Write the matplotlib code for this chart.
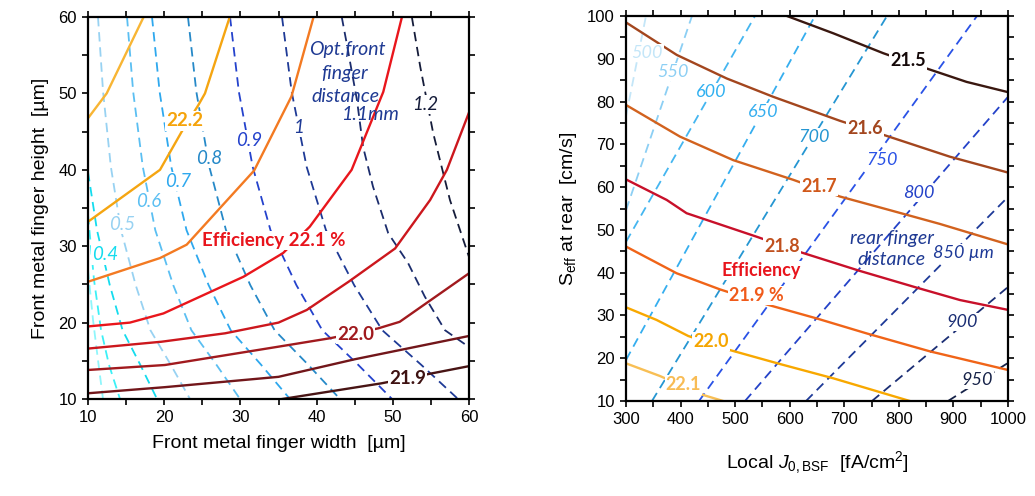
import matplotlib
matplotlib.use("Agg")
import matplotlib.pyplot as plt
from matplotlib.ticker import MultipleLocator

plt.rcParams['font.family'] = ['Liberation Sans', 'DejaVu Sans']
plt.rcParams['mathtext.fontset'] = 'custom'
plt.rcParams['mathtext.rm'] = 'Liberation Sans'
plt.rcParams['mathtext.it'] = 'Liberation Sans:italic'

# ---------------- Left panel data (front finger width / height) ----------------
# efficiency iso-lines (solid)
effL_A_x = [10, 12.45, 17.3]
effL_A_y = [46.75, 50.0, 60]
effL_222_x = [10, 19.45, 22.3, 24.5, 25.35, 28.6]
effL_222_y = [33.2, 40.0, 45.0, 48.5, 50.0, 60]
effL_C_x = [10, 19.45, 22.95, 27.1, 31.8, 36.7, 39.6]
effL_C_y = [25.35, 28.45, 30.2, 34.75, 39.9, 49.6, 60]
effL_221_x = [10, 15.5, 19.9, 30.4, 35.6, 39.1, 44.6, 48.75, 51.2]
effL_221_y = [19.5, 20.0, 21.2, 26.0, 29.1, 32.55, 40.0, 50.2, 60]
effL_E_x = [10, 19.67, 28.0, 35.0, 38.7, 44.2, 50.3, 54.9, 57.1, 60]
effL_E_y = [16.6, 17.5, 18.6, 20.0, 21.65, 25.35, 29.7, 36.05, 40.0, 47.5]
effL_220_x = [10, 20.1, 35.0, 41.75, 48.1, 50.9, 60]
effL_220_y = [13.8, 14.45, 16.85, 17.95, 19.25, 20.1, 26.45]
effL_G_x = [10, 20.1, 35.0, 45.0, 60]
effL_G_y = [10.75, 11.55, 12.9, 15.2, 18.25]
effL_219_x = [35.5, 48.5, 55.1, 60]
effL_219_y = [10, 12.05, 13.35, 14.3]

# optimum front finger distance iso-lines (dashed), mm
dL_02_x = [10, 10.66, 11.31, 11.97]
dL_02_y = [26.88, 20.34, 15.1, 10]
dL_03_x = [10, 10.79, 11.71, 12.76, 14.2]
dL_03_y = [34.08, 25.58, 19.03, 14.45, 10]
dL_04_x = [10, 11.18, 12.86, 14.54, 16.85, 19.06]
dL_04_y = [39.71, 32.1, 24.9, 19.0, 14.5, 10]
dL_yrow = [60, 50.2, 40.4, 32.1, 24.9, 19.0, 14.5, 10]
dL_05_x = [11.31, 11.98, 13.0, 14.33, 16.26, 18.19, 20.85, 23.39]
dL_06_x = [15.12, 15.93, 17.19, 18.83, 21.19, 23.57, 26.84, 29.95]
dL_07_x = [18.40, 19.40, 20.93, 22.93, 25.83, 28.73, 32.7, 36.5]
dL_08_x = [23.12, 24.22, 25.92, 28.11, 31.3, 34.49, 38.88, 43.07]
dL_09_x = [28.64, 29.8, 31.61, 33.95, 37.35, 40.75, 45.43, 49.9]
dL_10_x = [35.46, 36.73, 38.69, 41.23, 44.93, 48.62, 53.7, 58.56]
dL_11_x = [43.3, 43.95, 45.3, 46.1, 47.4, 49.4, 52.0, 54.2, 56.85, 60]
dL_11_y = [60, 56.55, 49.1, 43.0, 37.8, 31.7, 27.8, 23.4, 19.0, 16.8]
dL_12_x = [52.5, 53.6, 55.3, 57.5, 60]
dL_12_y = [60, 53.5, 44.8, 36.05, 28.6]

# ---------------- Right panel data (J0,BSF / Seff) ----------------
effR_215_x = [595, 680, 771.5, 854, 924, 1000]
effR_215_y = [100, 95.95, 91.3, 87.6, 84.6, 82.2]
effR_216_x = [300, 393, 484.5, 570, 692, 774.6, 893.7, 1000]
effR_216_y = [98.5, 90.9, 85.4, 81.1, 75.5, 72.1, 67.1, 63.4]
effR_217_x = [300, 399, 496.6, 606.6, 692, 784, 875, 1000]
effR_217_y = [79.2, 71.8, 66.3, 61.7, 57.8, 54.6, 51.4, 46.6]
effR_218_x = [300, 374.6, 411, 539.5, 622, 728.8, 832.7, 912, 1000]
effR_218_y = [61.8, 57.0, 53.9, 48.4, 44.7, 40.4, 36.5, 33.6, 31.3]
effR_219_x = [300, 393, 472, 561, 649.5, 741, 857, 1000]
effR_219_y = [46.1, 39.85, 36.1, 32.45, 29.3, 25.8, 21.6, 17.25]
effR_220_x = [300, 356, 414, 490.6, 582, 680, 820]
effR_220_y = [31.9, 28.95, 25.2, 21.9, 18.65, 15.3, 10]
effR_221_x = [300, 362, 441.6, 478]
effR_221_y = [18.8, 15.85, 11.4, 10]

# rear finger distance iso-lines (dashed), um: start / end points
dR_500 = ([300, 336.6], [76.6, 100])
dR_550 = ([300, 420.9], [54.6, 100])
dR_600 = ([300, 536.4], [47.2, 100])
dR_650 = ([300, 646.3], [19.6, 100])
dR_700 = ([347.6, 778.3], [10, 100])
dR_750 = ([433.8, 943.2], [10, 100])
dR_800 = ([518.1, 1000], [10, 81.1])
dR_850 = ([629.9, 1000], [10, 57.7])
dR_900 = ([750.8, 1000], [10, 36.65])
dR_950 = ([890.1, 1000], [10, 18.9])

# ---------------- figure ----------------
fig = plt.figure(figsize=(10.35, 4.96), dpi=100)
ax1 = fig.add_axes([88/1035, (496-399)/496, 381/1035, 382/496])
ax2 = fig.add_axes([626/1035, (496-401)/496, 382/1035, 385/496])

SOLID_LW = 1.7
DASH_LW = 1.3
DASH = (5.2, 3.2)
LBL = 'Lato'
NUM = 13
DESC = 14
box = dict(boxstyle='square,pad=0.06', fc='white', ec='none')


def solid(ax, x, y, c):
    ax.plot(x, y, color=c, lw=SOLID_LW, solid_joinstyle='miter', zorder=3)


def dashed(ax, x, y, c):
    ax.plot(x, y, color=c, lw=DASH_LW, dashes=DASH, zorder=2)


def lab(ax, x, y, s, c, bold=False, italic=False, size=NUM, bg=True, ha='center'):
    ax.text(x, y, s, color=c, fontsize=size, family=[LBL, 'DejaVu Sans'],
            fontweight='bold' if bold else 'normal',
            style='italic' if italic else 'normal',
            ha=ha, va='center', zorder=6, bbox=box if bg else None)


# ---- left panel ----
dashed(ax1, dL_02_x, dL_02_y, '#8ff6fb')
dashed(ax1, dL_03_x, dL_03_y, '#3cf0f6')
dashed(ax1, dL_04_x, dL_04_y, '#14dcee')
dashed(ax1, dL_05_x, dL_yrow, '#98d2f2')
dashed(ax1, dL_06_x, dL_yrow, '#5bbff2')
dashed(ax1, dL_07_x, dL_yrow, '#2ea8ee')
dashed(ax1, dL_08_x, dL_yrow, '#2689c8')
dashed(ax1, dL_09_x, dL_yrow, '#2442cc')
dashed(ax1, dL_10_x, dL_yrow, '#1e3a96')
dashed(ax1, dL_11_x, dL_11_y, '#1b2c6c')
dashed(ax1, dL_12_x, dL_12_y, '#151c3a')

solid(ax1, effL_A_x, effL_A_y, '#f8b534')
solid(ax1, effL_222_x, effL_222_y, '#f5a511')
solid(ax1, effL_C_x, effL_C_y, '#f37a22')
solid(ax1, effL_221_x, effL_221_y, '#e9161c')
solid(ax1, effL_E_x, effL_E_y, '#cc171d')
solid(ax1, effL_220_x, effL_220_y, '#a11a1e')
solid(ax1, effL_G_x, effL_G_y, '#72161a')
solid(ax1, effL_219_x, effL_219_y, '#481414')

lab(ax1, 22.7, 46.4, '22.2', '#f5a30a', bold=True, size=13.5)
lab(ax1, 34.4, 30.7, 'Efficiency 22.1 %', '#e8141c', bold=True, size=13.5)
lab(ax1, 45.1, 18.4, '22.0', '#a01a1e', bold=True, size=13.5)
lab(ax1, 51.9, 12.7, '21.9', '#3e1212', bold=True, size=13.5)

lab(ax1, 12.3, 28.85, '0.4', '#14dcee', italic=True, size=13.5)
lab(ax1, 14.5, 32.8, '0.5', '#98d2f2', italic=True, size=13.5)
lab(ax1, 17.9, 35.8, '0.6', '#5bbff2', italic=True, size=13.5)
lab(ax1, 21.85, 38.45, '0.7', '#2ea8ee', italic=True, size=13.5)
lab(ax1, 25.9, 41.5, '0.8', '#2689c8', italic=True, size=13.5)
lab(ax1, 31.1, 43.9, '0.9', '#2442cc', italic=True, size=13.5)
lab(ax1, 37.6, 45.5, '1', '#1e3a96', italic=True, size=13.5)
lab(ax1, 54.3, 48.5, '1.2', '#151c3a', italic=True, size=13.5)
lab(ax1, 44.05, 55.7, 'Opt.front', '#1f3a93', italic=True, size=DESC, bg=False)
lab(ax1, 43.7, 52.6, 'finger', '#1f3a93', italic=True, size=DESC, bg=False)
lab(ax1, 43.8, 49.6, 'distance', '#1f3a93', italic=True, size=DESC, bg=False)
lab(ax1, 47.0, 47.2, '1.1mm', '#1f3a93', italic=True, size=DESC, bg=False)

ax1.set_xlim(10, 60)
ax1.set_ylim(10, 60)
ax1.xaxis.set_major_locator(MultipleLocator(10))
ax1.xaxis.set_minor_locator(MultipleLocator(5))
ax1.yaxis.set_major_locator(MultipleLocator(10))
ax1.yaxis.set_minor_locator(MultipleLocator(5))
ax1.set_xlabel('Front metal finger width  [µm]', fontsize=14, labelpad=7)
ax1.set_ylabel('Front metal finger height  [µm]', fontsize=14, labelpad=7)

# ---- right panel ----
for (xs, ys), c in [(dR_500, '#c4e6f8'), (dR_550, '#8ccff4'), (dR_600, '#45b6f0'),
                    (dR_650, '#35aeef'), (dR_700, '#2596d2'), (dR_750, '#2a52e6'),
                    (dR_800, '#2442c8'), (dR_850, '#1e3a98'), (dR_900, '#1b2e74'),
                    (dR_950, '#162248')]:
    dashed(ax2, xs, ys, c)

solid(ax2, effR_215_x, effR_215_y, '#3a1810')
solid(ax2, effR_216_x, effR_216_y, '#a3461e')
solid(ax2, effR_217_x, effR_217_y, '#d2621e')
solid(ax2, effR_218_x, effR_218_y, '#c8102a')
solid(ax2, effR_219_x, effR_219_y, '#f06418')
solid(ax2, effR_220_x, effR_220_y, '#f8a800')
solid(ax2, effR_221_x, effR_221_y, '#f8bf55')

lab(ax2, 816.8, 89.7, '21.5', '#140808', bold=True)
lab(ax2, 738, 73.75, '21.6', '#a3461e', bold=True)
lab(ax2, 653.7, 60.1, '21.7', '#d0581a', bold=True)
lab(ax2, 585.9, 46.1, '21.8', '#c0501e', bold=True)
lab(ax2, 547.4, 40.6, 'Efficiency', '#e8141c', bold=True)
lab(ax2, 538.2, 34.6, '21.9 %', '#f05a1a', bold=True)
lab(ax2, 455.8, 23.9, '22.0', '#f5a500', bold=True)
lab(ax2, 405.4, 13.75, '22.1', '#f8bc55', bold=True)

lab(ax2, 338.5, 91.3, '500', '#c4e6f8', italic=True)
lab(ax2, 385.8, 87.0, '550', '#8ccff4', italic=True)
lab(ax2, 455.8, 82.3, '600', '#30b0f0', italic=True)
lab(ax2, 551, 77.6, '650', '#35aeef', italic=True)
lab(ax2, 644.5, 71.8, '700', '#2596d2', italic=True)
lab(ax2, 770, 66.3, '750', '#2a52e6', italic=True)
lab(ax2, 837, 58.7, '800', '#2442c8', italic=True)
lab(ax2, 917.5, 44.5, '850 µm', '#1e3a98', italic=True)
lab(ax2, 916.6, 28.55, '900', '#1b2e74', italic=True)
lab(ax2, 942.7, 14.9, '950', '#162248', italic=True)
lab(ax2, 786.9, 48.0, 'rear finger', '#1f3a93', italic=True, size=DESC, bg=False)
lab(ax2, 786.9, 43.0, 'distance', '#1f3a93', italic=True, size=DESC, bg=False)

ax2.set_xlim(300, 1000)
ax2.set_ylim(10, 100)
ax2.xaxis.set_major_locator(MultipleLocator(100))
ax2.xaxis.set_minor_locator(MultipleLocator(50))
ax2.yaxis.set_major_locator(MultipleLocator(10))
ax2.yaxis.set_minor_locator(MultipleLocator(5))
ax2.set_xlabel(r'Local $J_{0,\mathrm{BSF}}$  [fA/cm$^{2}$]', fontsize=14, labelpad=16)
ax2.set_ylabel(r'$\mathrm{S}_{\mathrm{eff}}$ at rear  [cm/s]', fontsize=14, labelpad=6)

for ax in (ax1, ax2):
    for sp in ax.spines.values():
        sp.set_linewidth(1.6)
        sp.set_zorder(10)
    ax.tick_params(which='both', direction='out', length=4.5, width=1.2,
                   top=True, right=True, labelsize=12)

fig.savefig('out.png', dpi=100)
